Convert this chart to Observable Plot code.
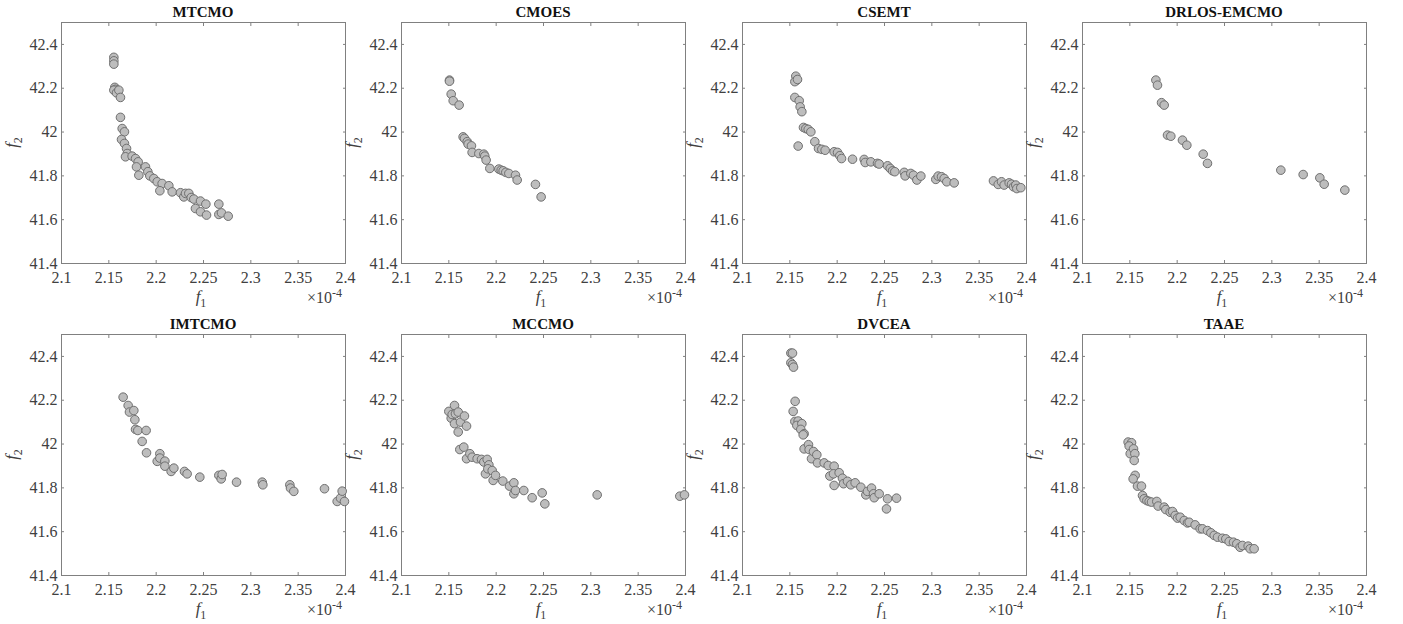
<!DOCTYPE html>
<html>
<head>
<meta charset="utf-8">
<script src="https://cdn.jsdelivr.net/npm/d3@7"></script>
<script src="https://cdn.jsdelivr.net/npm/@observablehq/plot@0.6"></script>
<style>
  body { margin: 0; background: #fff; }
  #wrap { position: relative; width: 1403px; height: 624px; overflow: hidden; font-family: "Liberation Serif", "Times New Roman", serif; }
  .panel { position: absolute; }
  #wrap svg text { font-family: "Liberation Serif", "Times New Roman", serif; }
</style>
</head>
<body>
<div id="wrap"></div>
<script>
// ---- data (f1 in units of 1e-4, f2) ----
const titles = ["MTCMO", "CMOES", "CSEMT", "DRLOS-EMCMO", "IMTCMO", "MCCMO", "DVCEA", "TAAE"];
const xTicks = [2.1, 2.15, 2.2, 2.25, 2.3, 2.35, 2.4];
const yTicks = [41.4, 41.6, 41.8, 42, 42.2, 42.4];

const mtcmoF1 = [2.1553,2.1553,2.1553,2.1563,2.1570,2.1553,2.1581,2.1606,2.1623,2.1623,2.1641,2.1665,2.1634,2.1665,2.1687,2.1694,2.1676,2.1746,2.1782,2.1810,2.1792,2.1817,2.1887,2.1912,2.1933,2.1975,2.2011,2.2063,2.2039,2.2134,2.2169,2.2257,2.2292,2.2310,2.2345,2.2370,2.2398,2.2415,2.2468,2.2468,2.2525,2.2532,2.2662,2.2662,2.2690,2.2761];
const mtcmoF2 = [42.341,42.325,42.310,42.204,42.195,42.191,42.179,42.191,42.158,42.067,42.016,42.001,41.966,41.948,41.925,41.902,41.887,41.890,41.879,41.864,41.841,41.803,41.841,41.819,41.800,41.788,41.773,41.765,41.732,41.755,41.727,41.723,41.704,41.720,41.720,41.701,41.694,41.651,41.636,41.685,41.671,41.621,41.671,41.624,41.631,41.616];

const cmoesF1 = [2.1507,2.1507,2.1525,2.1546,2.1609,2.1651,2.1665,2.1694,2.1704,2.1739,2.1746,2.1817,2.1870,2.1880,2.1894,2.1933,2.2028,2.2053,2.2074,2.2102,2.2134,2.2204,2.2222,2.2415,2.2475];
const cmoesF2 = [42.237,42.232,42.173,42.143,42.123,41.978,41.971,41.956,41.945,41.937,41.907,41.902,41.899,41.890,41.872,41.834,41.831,41.826,41.823,41.816,41.811,41.803,41.781,41.761,41.704];

const csemtF1 = [2.1563,2.1574,2.1553,2.1581,2.1553,2.1599,2.1609,2.1627,2.1588,2.1644,2.1669,2.1694,2.1722,2.1764,2.1803,2.1838,2.1873,2.1968,2.2004,2.2028,2.2046,2.2162,2.2285,2.2296,2.2356,2.2426,2.2444,2.2532,2.2560,2.2585,2.2609,2.2708,2.2718,2.2778,2.2806,2.2842,2.2884,2.3042,2.3067,2.3102,2.3130,2.3158,2.3236,2.3651,2.3701,2.3736,2.3764,2.3817,2.3842,2.3863,2.3887,2.3898,2.3940];
const csemtF2 = [42.255,42.237,42.230,42.240,42.158,42.143,42.115,42.093,41.936,42.021,42.016,42.012,42.001,41.956,41.925,41.921,41.917,41.910,41.907,41.892,41.879,41.876,41.875,41.861,41.864,41.857,41.854,41.846,41.834,41.823,41.819,41.816,41.800,41.811,41.803,41.781,41.799,41.784,41.799,41.796,41.788,41.773,41.768,41.777,41.761,41.773,41.758,41.768,41.762,41.750,41.758,41.742,41.746];

const drlosF1 = [2.1775,2.1792,2.1835,2.1863,2.1898,2.1933,2.2056,2.2102,2.2275,2.2320,2.3095,2.3331,2.3507,2.3553,2.3771];
const drlosF2 = [42.237,42.214,42.134,42.123,41.986,41.981,41.963,41.940,41.899,41.857,41.826,41.806,41.791,41.762,41.735];

const imtcmoF1 = [2.1651,2.1704,2.1718,2.1764,2.1775,2.1782,2.1806,2.1894,2.1852,2.1898,2.2011,2.2039,2.2039,2.2092,2.2092,2.2158,2.2187,2.2299,2.2327,2.2461,2.2662,2.2687,2.2697,2.2849,2.3120,2.3127,2.3412,2.3419,2.3454,2.3778,2.3912,2.3947,2.3965,2.3989];
const imtcmoF2 = [42.214,42.176,42.146,42.153,42.111,42.067,42.062,42.062,42.012,41.960,41.921,41.956,41.936,41.922,41.899,41.875,41.890,41.875,41.864,41.849,41.857,41.841,41.861,41.826,41.826,41.814,41.814,41.799,41.784,41.796,41.738,41.753,41.785,41.738];

const mccmoF1 = [2.1500,2.1525,2.1535,2.1560,2.1570,2.1560,2.1599,2.1623,2.1665,2.1687,2.1599,2.1616,2.1658,2.1687,2.1722,2.1746,2.1799,2.1845,2.1870,2.1905,2.1923,2.1887,2.1912,2.1958,2.1968,2.1993,2.2070,2.2141,2.2187,2.2187,2.2204,2.2292,2.2380,2.2486,2.2514,2.3067,2.3940,2.3989];
const mccmoF2 = [42.149,42.118,42.135,42.176,42.138,42.093,42.146,42.100,42.128,42.082,42.055,41.975,41.986,41.933,41.956,41.940,41.933,41.930,41.918,41.930,41.905,41.864,41.887,41.879,41.834,41.857,41.831,41.808,41.823,41.773,41.788,41.788,41.755,41.777,41.727,41.768,41.762,41.768];

const dvceaF1 = [2.1511,2.1528,2.1511,2.1528,2.1539,2.1556,2.1535,2.1553,2.1588,2.1574,2.1627,2.1616,2.1651,2.1641,2.1651,2.1697,2.1704,2.1729,2.1750,2.1785,2.1792,2.1863,2.1905,2.1923,2.1968,2.1961,2.1968,2.2021,2.2056,2.2067,2.2109,2.2144,2.2190,2.2250,2.2303,2.2320,2.2363,2.2384,2.2391,2.2444,2.2521,2.2532,2.2627];
const dvceaF2 = [42.415,42.415,42.371,42.363,42.351,42.195,42.149,42.103,42.105,42.085,42.093,42.067,42.047,42.042,41.978,41.997,41.975,41.933,41.966,41.951,41.914,41.914,41.902,41.854,41.899,41.864,41.811,41.869,41.844,41.819,41.830,41.814,41.823,41.803,41.768,41.784,41.799,41.773,41.755,41.773,41.704,41.750,41.753];

const taaeF1 = [2.1482,2.1518,2.1493,2.1504,2.1539,2.1553,2.1546,2.1556,2.1535,2.1581,2.1623,2.1634,2.1651,2.1680,2.1704,2.1729,2.1785,2.1799,2.1863,2.1880,2.1926,2.1951,2.1979,2.2004,2.2032,2.2074,2.2109,2.2127,2.2190,2.2243,2.2268,2.2320,2.2356,2.2391,2.2426,2.2479,2.2514,2.2549,2.2595,2.2630,2.2665,2.2690,2.2750,2.2771,2.2813];
const taaeF2 = [42.009,42.006,41.991,41.956,41.978,41.956,41.925,41.857,41.841,41.808,41.808,41.765,41.750,41.742,41.738,41.735,41.738,41.717,41.712,41.701,41.689,41.692,41.674,41.662,41.666,41.651,41.640,41.643,41.631,41.613,41.613,41.605,41.595,41.583,41.575,41.570,41.567,41.555,41.552,41.545,41.529,41.537,41.534,41.522,41.522];

const seriesF1 = [mtcmoF1, cmoesF1, csemtF1, drlosF1, imtcmoF1, mccmoF1, dvceaF1, taaeF1];
const seriesF2 = [mtcmoF2, cmoesF2, csemtF2, drlosF2, imtcmoF2, mccmoF2, dvceaF2, taaeF2];

// ---- layout ----
const W = 355, H = 312, ML = 61, MR = 10, MT = 22, MB = 49;
const colLeft = [0, 340, 681, 1021];
const rowTop = [0, 312];
const frameColor = "#808080";
const textColor = "#404040";
const fontFam = "'Liberation Serif', 'Times New Roman', serif";
const wrap = document.getElementById("wrap");

titles.forEach((title, i) => {
  const data = seriesF1[i].map((f1, j) => ({f1, f2: seriesF2[i][j]}));
  const chart = Plot.plot({
    width: W, height: H,
    marginLeft: ML, marginRight: MR, marginTop: MT, marginBottom: MB,
    style: {fontFamily: fontFam, fontSize: "16px", color: textColor, background: "transparent", overflow: "visible"},
    x: {domain: [2.1, 2.4]},
    y: {domain: [41.4, 42.5]},
    marks: [
      Plot.frame({stroke: frameColor, strokeWidth: 1}),
      Plot.axisX(xTicks, {anchor: "bottom", tickSize: 0, tickPadding: 8, label: null, tickFormat: d => String(d), fill: textColor}),
      Plot.axisY(yTicks, {anchor: "left", tickSize: 0, tickPadding: 4, label: null, tickFormat: d => String(d), fill: textColor}),
      Plot.axisX(xTicks, {anchor: "bottom", tickSize: -3, label: null, tickFormat: () => "", stroke: frameColor}),
      Plot.axisX(xTicks, {anchor: "top", tickSize: -3, label: null, tickFormat: () => "", stroke: frameColor}),
      Plot.axisY(yTicks, {anchor: "left", tickSize: -3, label: null, tickFormat: () => "", stroke: frameColor}),
      Plot.axisY(yTicks, {anchor: "right", tickSize: -3, label: null, tickFormat: () => "", stroke: frameColor}),
      Plot.dot(data, {x: "f1", y: "f2", r: 4.3, fill: "#bdbdbd", stroke: "#6f6f6f", strokeWidth: 1})
    ]
  });
  const svg = d3.select(chart);
  svg.attr("font-family", fontFam);
  svg.selectAll("g").attr("font-family", fontFam);
  const cx = ML + (W - ML - MR) / 2;
  svg.append("text")
    .attr("x", cx).attr("y", 17)
    .attr("text-anchor", "middle")
    .attr("font-weight", "bold").attr("font-size", 15).attr("fill", "#111")
    .text(title);
  // x label f1
  const xl = svg.append("text")
    .attr("x", cx - 2).attr("y", 302)
    .attr("text-anchor", "middle")
    .attr("font-size", 17).attr("fill", textColor);
  xl.append("tspan").attr("font-style", "italic").text("f");
  xl.append("tspan").attr("font-size", 12).attr("dy", 5).text("1");
  // y label f2
  const yl = svg.append("text")
    .attr("transform", `translate(17,${MT + (H - MT - MB) / 2}) rotate(-90)`)
    .attr("text-anchor", "middle")
    .attr("font-size", 17).attr("fill", textColor);
  yl.append("tspan").attr("font-style", "italic").text("f");
  yl.append("tspan").attr("font-size", 12).attr("dy", 5).text("2");
  // exponent
  const ex = svg.append("text")
    .attr("x", 307).attr("y", 303)
    .attr("text-anchor", "start")
    .attr("font-size", 16).attr("fill", textColor);
  ex.append("tspan").text("\u00d710");
  ex.append("tspan").attr("font-size", 12).attr("dy", -6).text("-4");

  const div = document.createElement("div");
  div.className = "panel";
  div.style.left = colLeft[i % 4] + "px";
  div.style.top = rowTop[Math.floor(i / 4)] + "px";
  div.appendChild(chart);
  wrap.appendChild(div);
});
</script>
</body>
</html>
